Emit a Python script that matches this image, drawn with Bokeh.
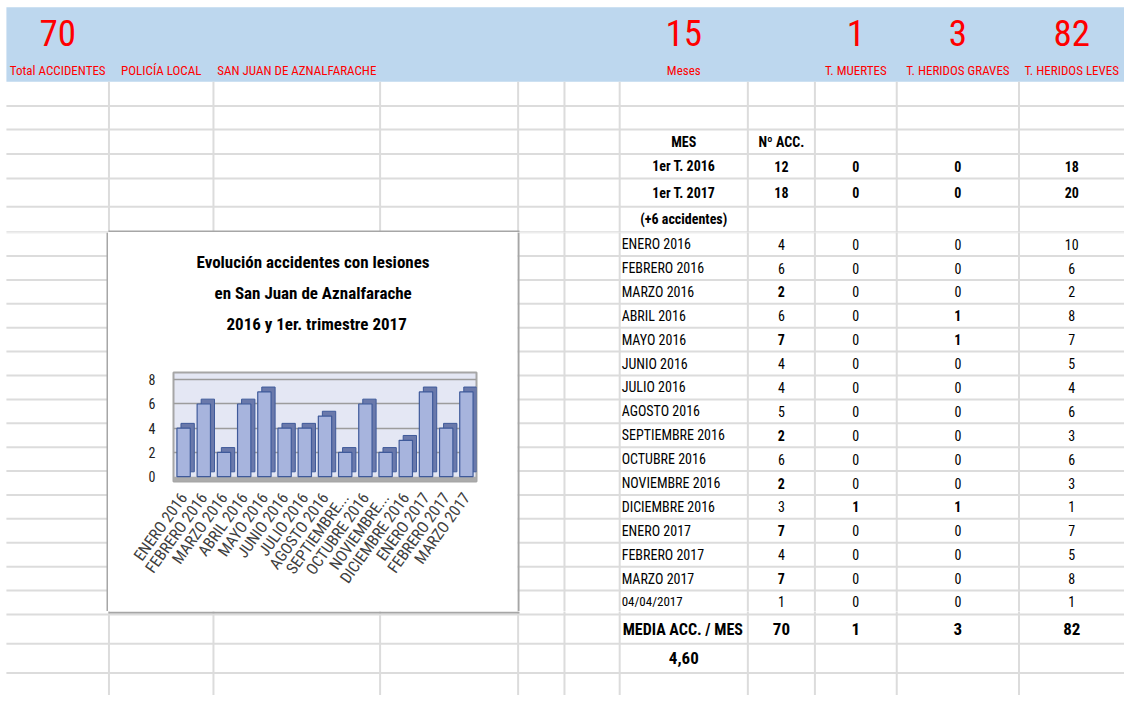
import math
from bokeh.plotting import figure
from bokeh.models import ColumnDataSource, FactorRange, Range1d, Title, BoxAnnotation, FixedTicker
from bokeh.layouts import column, row
from bokeh.embed import file_html
from bokeh.resources import INLINE
from bokeh.core.properties import value
from bokeh.transform import dodge

# ---------------- data ----------------
months = ["ENERO 2016", "FEBRERO 2016", "MARZO 2016", "ABRIL 2016", "MAYO 2016",
          "JUNIO 2016", "JULIO 2016", "AGOSTO 2016", "SEPTIEMBRE 2016", "OCTUBRE 2016",
          "NOVIEMBRE 2016", "DICIEMBRE 2016", "ENERO 2017", "FEBRERO 2017", "MARZO 2017"]
chart_labels = ["ENERO 2016", "FEBRERO 2016", "MARZO 2016", "ABRIL 2016", "MAYO 2016",
                "JUNIO 2016", "JULIO 2016", "AGOSTO 2016", "SEPTIEMBRE...", "OCTUBRE 2016",
                "NOVIEMBRE...", "DICIEMBRE 2016", "ENERO 2017", "FEBRERO 2017", "MARZO 2017"]
accidentes = [4, 6, 2, 6, 7, 4, 4, 5, 2, 6, 2, 3, 7, 4, 7]
muertes = [0, 0, 0, 0, 0, 0, 0, 0, 0, 0, 0, 1, 0, 0, 0]
graves = [0, 0, 0, 1, 1, 0, 0, 0, 0, 0, 0, 1, 0, 0, 0]
leves = [10, 6, 2, 8, 7, 5, 4, 6, 3, 6, 3, 1, 7, 5, 8]

trimestres = ["1er T. 2016", "1er T. 2017"]
trim_acc = [12, 18]
trim_muertes = [0, 0]
trim_graves = [0, 0]
trim_leves = [18, 20]
trim_note = "(+6 accidentes)"

extra_label = "04/04/2017"
extra_vals = [1, 0, 0, 1]

total_label = "MEDIA ACC. / MES"
totals = [70, 1, 3, 82]
media = "4,60"

header_numbers = ["70", "15", "1", "3", "82"]
header_labels = ["Total ACCIDENTES", "Meses", "T. MUERTES", "T. HERIDOS GRAVES", "T. HERIDOS LEVES"]
banner = ["POLICÍA LOCAL", "SAN JUAN DE AZNALFARACHE"]
col_headers = ["MES", "Nº ACC."]
chart_title = ["Evolución accidentes con lesiones", "en San Juan de Aznalfarache",
               "2016 y 1er. trimestre 2017"]
y_ticks = [0, 2, 4, 6, 8]

# ---------------- layout / style ----------------
FONT = "Roboto Condensed, Roboto"
BAND = "#BDD7EE"
GRID = "#DCDCDC"
BOX = "#A6A6A6"
RED = "#FF0000"

# page is 1124 x 695 px; sheet coordinates are those of a 1140 x 711 sheet
SX = 1124 / 1140
SY = 695 / 711
PX = [0, 108, 517, 1124]
PY = [0, 232, 611, 695]

col_x = [110, 216, 385, 525, 572, 628, 758, 826, 909, 1033]
row_y = [108, 132, 157, 182, 211, 237]
ROW_H = 24.44
row_y += [237 + ROW_H * k for k in range(1, 17)]
row_y += [658, 688]

c_mes, c_acc, c_m, c_g, c_l = 693, 792, 867.5, 971, 1086.5
header_x = [58, c_mes, c_m, c_g, c_l]
value_x = [c_acc, c_m, c_g, c_l]

items = []


def T(x, y, t, align="center", size=14, style="normal", color="#000000"):
    items.append((x, y, str(t), align, f"{size}px", style, color))


# header band
for x, n, lab in zip(header_x, header_numbers, header_labels):
    T(x, 33, n, size=37, color=RED)
    T(x, 72, lab, size=13, color=RED)
T(163, 72, banner[0], size=13, color=RED)
T(300.5, 72, banner[1], size=13, color=RED)

# table header
T(c_mes, 144.5, col_headers[0], style="bold")
T(c_acc, 144.5, col_headers[1], style="bold")
for i, (lab, a, m, g, l) in enumerate(zip(trimestres, trim_acc, trim_muertes, trim_graves, trim_leves)):
    y = [169.5, 196.5][i]
    T(c_mes, y, lab, style="bold")
    for x, v in zip(value_x, [a, m, g, l]):
        T(x, y, v, style="bold")
T(c_mes, 224, trim_note, style="bold")

for i, (mname, a, m, g, l) in enumerate(zip(months, accidentes, muertes, graves, leves)):
    y = 237 + ROW_H * (i + 0.5)
    T(630, y, mname, align="left")
    T(c_acc, y, a, style="bold" if (a <= 2 or a >= 7) else "normal")
    T(c_m, y, m, style="bold" if m >= 1 else "normal")
    T(c_g, y, g, style="bold" if g >= 1 else "normal")
    T(c_l, y, l)
y = 237 + ROW_H * 15.5 - 1
T(630, y, extra_label, align="left", size=13)
for x, v in zip(value_x, extra_vals):
    T(x, y, v, size=14)

T(631, 643, total_label, align="left", size=16, style="bold")
for x, v in zip(value_x, totals):
    T(x, 643, v, size=17, style="bold")
T(c_mes, 673, media, size=17, style="bold")


def no_align(p):
    if "frame_align" in p.properties():
        p.frame_align = False


def sheet(px0, px1, py0, py1, extra_lines=()):
    x0, x1 = px0 / SX, px1 / SX
    y0, y1 = py0 / SY, py1 / SY
    p = figure(width=px1 - px0, height=py1 - py0, x_range=Range1d(x0, x1), y_range=Range1d(y1, y0),
               x_axis_type=None, y_axis_type=None, min_border=0, toolbar_location=None,
               output_backend="svg", outline_line_color=None,
               background_fill_color="white", border_fill_color="white")
    no_align(p)
    p.grid.visible = False
    p.quad(left=[6], right=[1140], top=[7], bottom=[83], fill_color=BAND, line_color=None)
    p.segment(x0=[6] * len(row_y), x1=[1140] * len(row_y), y0=row_y, y1=row_y,
              line_color=GRID, line_width=2)
    p.segment(x0=col_x, x1=col_x, y0=[83] * len(col_x), y1=[711] * len(col_x),
              line_color=GRID, line_width=2)
    for (ax0, ay0, ax1, ay1) in extra_lines:
        p.segment(x0=[ax0], y0=[ay0], x1=[ax1], y1=[ay1], line_color=BOX, line_width=2)
    sel = [it for it in items if x0 <= it[0] < x1 and y0 <= it[1] < y1]
    if sel:
        src = ColumnDataSource(dict(
            x=[s[0] for s in sel], y=[s[1] for s in sel], text=[s[2] for s in sel],
            align=[s[3] for s in sel], size=[s[4] for s in sel],
            style=[s[5] for s in sel], color=[s[6] for s in sel]))
        p.text(x="x", y="y", text="text", text_align="align", text_baseline="middle",
               text_font_size="size", text_font_style="style", text_color="color",
               text_font=value(FONT), source=src)
    return p


bx0, bx1 = PX[1] / SX, PX[2] / SX
by0, by1 = PY[1] / SY, PY[2] / SY
top = sheet(PX[0], PX[3], PY[0], PY[1], extra_lines=[(bx0, 231 / SY, bx1 + 2, 231 / SY)])
left = sheet(PX[0], PX[1], PY[1], PY[2], extra_lines=[(107 / SX, by0, 107 / SX, by1)])
right = sheet(PX[2], PX[3], PY[1], PY[2], extra_lines=[(518 / SX, by0, 518 / SX, by1)])
bottom = sheet(PX[0], PX[3], PY[2], PY[3], extra_lines=[(bx0, (PY[2] + 1) / SY, bx1 + 2, (PY[2] + 1) / SY)])

# ---------------- chart ----------------
src = ColumnDataSource(dict(cat=chart_labels, val=accidentes))
cp = figure(x_range=FactorRange(*chart_labels, range_padding=0), y_range=Range1d(-0.4, 8.6),
            width=PX[2] - PX[1], height=PY[2] - PY[1], min_border_left=65, min_border_right=41,
            min_border_top=140, min_border_bottom=PY[2] - 481, toolbar_location=None,
            output_backend="svg", background_fill_color="#E4E7F4", border_fill_color="white",
            outline_line_color=BOX, outline_line_width=2)
no_align(cp)

cp.add_layout(BoxAnnotation(top=0, fill_color="#ABABAB", fill_alpha=1, line_color=None,
                            level="underlay"))
cp.vbar(x=dodge("cat", 0.2, range=cp.x_range), top=dodge("val", 0.4), bottom=0.4, width=0.66,
        source=src, fill_color="#6A79AB", line_color="#3F5A9A", line_width=1)
cp.vbar(x="cat", top="val", bottom=0, width=0.66, source=src,
        fill_color="#A7B4DD", line_color="#3F5A9A", line_width=1.2)

cp.ygrid.ticker = FixedTicker(ticks=y_ticks[1:])
cp.ygrid.grid_line_color = "#9C9C9C"
cp.ygrid.grid_line_width = 1.5
cp.xgrid.visible = False

cp.yaxis.ticker = FixedTicker(ticks=y_ticks)
cp.yaxis.axis_line_color = None
cp.yaxis.major_tick_line_color = None
cp.yaxis.minor_tick_line_color = None
cp.yaxis.major_label_standoff = 12
cp.yaxis.major_label_text_font = FONT
cp.yaxis.major_label_text_font_size = "14px"
cp.yaxis.major_label_text_color = "#222222"

cp.xaxis.axis_line_color = None
cp.xaxis.major_tick_line_color = None
cp.xaxis.major_label_orientation = 0.95
cp.xaxis.major_label_standoff = 7
cp.xaxis.major_label_text_font = FONT
cp.xaxis.major_label_text_font_size = "16px"
cp.xaxis.major_label_text_color = "#404040"

# spacer between the title block and the plot area, then the three title lines
cp.add_layout(Title(text=" ", standoff=12, text_font=FONT, text_font_size="17px"), "above")
for txt, off in zip(reversed(chart_title), [53, 41, 23]):
    cp.add_layout(Title(text=txt, align="left", offset=off, standoff=9,
                        text_font=FONT, text_font_size="17px", text_font_style="bold",
                        text_color="#000000"), "above")

layout = column(top, row(left, cp, right), bottom)
open("out.html", "w").write(file_html(layout, INLINE))
